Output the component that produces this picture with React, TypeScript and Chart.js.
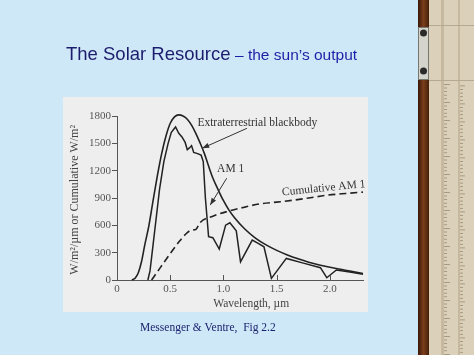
import React, { useEffect, useRef } from 'react';
import { Chart, registerables } from 'chart.js';
Chart.register(...registerables);

// ---- data (wavelength in µm, irradiance in W/m²/µm) ----
const blackbodyX = [0.14, 0.17, 0.2, 0.23, 0.26, 0.3, 0.34, 0.38, 0.42, 0.46, 0.5, 0.54, 0.58, 0.62, 0.66, 0.7, 0.74, 0.78, 0.82, 0.86, 0.9, 0.95, 1.0, 1.05, 1.1, 1.2, 1.3, 1.4, 1.5, 1.6, 1.7, 1.8, 1.9, 2.0, 2.1, 2.2, 2.31];
const blackbodyY = [0, 20, 80, 200, 380, 600, 880, 1150, 1390, 1580, 1720, 1790, 1812, 1800, 1765, 1700, 1610, 1505, 1390, 1250, 1120, 990, 870, 770, 690, 560, 460, 385, 325, 275, 232, 195, 165, 140, 118, 95, 72];

const am1X = [0.29, 0.31, 0.34, 0.37, 0.4, 0.44, 0.48, 0.51, 0.55, 0.58, 0.61, 0.64, 0.66, 0.68, 0.7, 0.72, 0.75, 0.79, 0.81, 0.83, 0.86, 0.9, 0.96, 1.02, 1.06, 1.12, 1.16, 1.27, 1.33, 1.38, 1.45, 1.59, 1.75, 1.91, 1.97, 2.06, 2.2, 2.31];
const am1Y = [0, 100, 400, 700, 1000, 1300, 1500, 1620, 1680, 1610, 1570, 1510, 1430, 1450, 1475, 1400, 1390, 1370, 1300, 900, 475, 464, 340, 602, 628, 540, 200, 438, 400, 365, 18, 237, 185, 135, 25, 110, 85, 62];

const cumX = [0.325, 0.4, 0.5, 0.59, 0.66, 0.7, 0.74, 0.78, 0.9, 1.03, 1.2, 1.34, 1.5, 1.65, 1.8, 1.97, 2.15, 2.31];
const cumY = [0, 125, 290, 430, 520, 548, 555, 630, 700, 750, 800, 835, 855, 875, 900, 930, 950, 965];

const xTicks = [0, 0.5, 1.0, 1.5, 2.0];
const xTickLabels = ['0', '0.5', '1.0', '1.5', '2.0'];
const yTicks = [0, 300, 600, 900, 1200, 1500, 1800];

const SERIF = '"Liberation Serif", "Times New Roman", serif';
const SANS = '"Liberation Sans", Arial, sans-serif';

const slidePlugin = {
  id: 'slide',
  beforeDraw(chart: any) {
    const ctx = chart.ctx as CanvasRenderingContext2D;
    ctx.save();
    ctx.fillStyle = '#cfe8f7';
    ctx.fillRect(0, 0, 474, 355);
    // scanned figure background
    ctx.fillStyle = '#eeeeee';
    ctx.fillRect(63, 97, 305, 215);

    // title
    ctx.textBaseline = 'alphabetic';
    ctx.textAlign = 'left';
    ctx.font = `18.5px ${SANS}`;
    ctx.fillStyle = '#1c1c6e';
    ctx.fillText('The Solar Resource', 66, 60);
    ctx.font = `15.5px ${SANS}`;
    ctx.fillStyle = '#1e1ea6';
    ctx.fillText('\u2013 the sun\u2019s output', 235, 60);

    // caption
    ctx.font = `11.5px ${SERIF}`;
    ctx.fillStyle = '#1c2470';
    ctx.fillText('Messenger & Ventre,  Fig 2.2', 140, 331);

    // slide rule decoration
    const g = ctx.createLinearGradient(418, 0, 429, 0);
    g.addColorStop(0, '#3a1806');
    g.addColorStop(0.5, '#7a3e1b');
    g.addColorStop(1, '#45200b');
    ctx.fillStyle = g;
    ctx.fillRect(418, 0, 11, 355);
    ctx.fillStyle = '#dbd1bb';
    ctx.fillRect(429, 0, 45, 355);
    ctx.fillStyle = '#c6b99f';
    ctx.fillRect(441, 0, 3, 355);
    ctx.fillRect(458, 0, 2, 355);
    ctx.fillStyle = '#9a8c74';
    let i = 0;
    for (let y = 84; y < 355; y += 3.6) {
      const long = i % 5 === 0;
      ctx.fillRect(444, y, long ? 6 : 3, 0.8);
      ctx.fillRect(460, y + 1.5, long ? 5 : 3, 0.8);
      i++;
    }
    ctx.fillStyle = '#b5a98f';
    ctx.fillRect(429, 25, 45, 1);
    ctx.fillRect(429, 80, 45, 1);
    // clip
    ctx.fillStyle = '#d4d4cc';
    ctx.fillRect(418, 27, 11, 53);
    ctx.strokeStyle = '#77776f';
    ctx.lineWidth = 1;
    ctx.strokeRect(418.5, 27.5, 10, 52);
    ctx.fillStyle = '#2a2a2a';
    [33, 71].forEach((cy) => {
      ctx.beginPath();
      ctx.arc(423.5, cy, 3.5, 0, Math.PI * 2);
      ctx.fill();
    });
    ctx.restore();
  },
  afterDraw(chart: any) {
    const ctx = chart.ctx as CanvasRenderingContext2D;
    const xs = chart.scales.x;
    const ys = chart.scales.y;
    const px = (v: number) => xs.getPixelForValue(v);
    const py = (v: number) => ys.getPixelForValue(v);
    ctx.save();
    // inner x ticks
    ctx.strokeStyle = '#555';
    ctx.lineWidth = 1;
    xTicks.forEach((v) => {
      if (v === 0) return;
      const x = Math.round(px(v)) + 0.5;
      ctx.beginPath();
      ctx.moveTo(x, ys.bottom);
      ctx.lineTo(x, ys.bottom - 5);
      ctx.stroke();
    });

    ctx.fillStyle = '#333';
    ctx.font = `11.5px ${SERIF}`;
    ctx.textBaseline = 'middle';
    ctx.textAlign = 'left';
    // blackbody label + arrow
    ctx.fillText('Extraterrestrial blackbody', px(0.755), py(1720));
    const arrow = (x1: number, y1: number, x2: number, y2: number, head: boolean) => {
      ctx.strokeStyle = '#333';
      ctx.lineWidth = 1;
      ctx.beginPath();
      ctx.moveTo(x1, y1);
      ctx.lineTo(x2, y2);
      ctx.stroke();
      if (head) {
        const a = Math.atan2(y2 - y1, x2 - x1);
        const L = 7, W = 2.6;
        ctx.beginPath();
        ctx.moveTo(x2, y2);
        ctx.lineTo(x2 - L * Math.cos(a) + W * Math.sin(a), y2 - L * Math.sin(a) - W * Math.cos(a));
        ctx.lineTo(x2 - L * Math.cos(a) - W * Math.sin(a), y2 - L * Math.sin(a) + W * Math.cos(a));
        ctx.closePath();
        ctx.fillStyle = '#333';
        ctx.fill();
      }
    };
    arrow(px(1.22), py(1665), px(0.8), py(1446), true);
    ctx.fillStyle = '#333';
    ctx.fillText('AM 1', px(0.94), py(1216));
    arrow(px(1.03), py(1117), px(0.875), py(822), true);

    // cumulative label (rotated)
    ctx.save();
    ctx.translate(px(1.55), py(960));
    ctx.rotate(-5.8 * Math.PI / 180);
    ctx.fillStyle = '#333';
    ctx.textAlign = 'left';
    ctx.fillText('Cumulative AM 1', 0, 0);
    ctx.restore();

    // axis titles
    ctx.fillStyle = '#444';
    ctx.textAlign = 'center';
    ctx.fillText('Wavelength, \u00b5m', px(1.26), ys.bottom + 24);
    ctx.save();
    ctx.translate(75, py(880));
    ctx.rotate(-Math.PI / 2);
    ctx.font = `12px ${SERIF}`;
    ctx.fillText('W/m\u00b2/\u00b5m or Cumulative W/m\u00b2', 0, 0);
    ctx.restore();
    ctx.restore();
  },
};

export default function App() {
  const ref = useRef<HTMLCanvasElement>(null);
  useEffect(() => {
    if (!ref.current) return;
    const pts = (xs: number[], ys: number[]) => xs.map((x, i) => ({ x, y: ys[i] }));
    const chart = new Chart(ref.current, {
      type: 'line',
      data: {
        datasets: [
          {
            label: 'Extraterrestrial blackbody',
            data: pts(blackbodyX, blackbodyY),
            borderColor: '#222222',
            borderWidth: 1.6,
            pointRadius: 0,
            clip: false,
            cubicInterpolationMode: 'monotone',
          },
          {
            label: 'AM 1',
            data: pts(am1X, am1Y),
            borderColor: '#222222',
            borderWidth: 1.5,
            pointRadius: 0,
            clip: false,
            tension: 0,
          },
          {
            label: 'Cumulative AM 1',
            data: pts(cumX, cumY),
            borderColor: '#222222',
            borderWidth: 1.6,
            borderDash: [7, 4],
            pointRadius: 0,
            clip: false,
            cubicInterpolationMode: 'monotone',
          },
        ],
      },
      options: {
        animation: false,
        responsive: false,
        devicePixelRatio: 1,
        layout: { padding: { left: 67, right: 111, top: 116, bottom: 55 } },
        plugins: { legend: { display: false }, tooltip: { enabled: false } },
        scales: {
          x: {
            type: 'linear',
            min: 0,
            max: 2.31,
            afterBuildTicks: (s: any) => {
              s.ticks = xTicks.map((v) => ({ value: v }));
            },
            afterFit: (s: any) => {
              s.height = 20;
            },
            grid: { display: false, drawTicks: false },
            border: { display: true, color: '#555', width: 1 },
            ticks: {
              padding: 3,
              color: '#555',
              font: { family: SERIF, size: 11 },
              maxRotation: 0,
              callback: (v: any) => {
                const idx = xTicks.indexOf(Number(v));
                return idx >= 0 ? xTickLabels[idx] : '';
              },
            },
          },
          y: {
            type: 'linear',
            min: 0,
            max: 1800,
            afterBuildTicks: (s: any) => {
              s.ticks = yTicks.map((v) => ({ value: v }));
            },
            afterFit: (s: any) => {
              s.width = 50;
            },
            grid: { drawOnChartArea: false, drawTicks: true, tickLength: 5, color: '#555' },
            border: { display: true, color: '#555', width: 1 },
            ticks: {
              padding: 1,
              color: '#555',
              font: { family: SERIF, size: 11 },
              callback: (v: any) => String(v),
            },
          },
        },
      },
      plugins: [slidePlugin],
    } as any);
    return () => chart.destroy();
  }, []);
  return (
    <div style={{ position: 'fixed', left: 0, top: 0, width: 474, height: 355 }}>
      <canvas ref={ref} width={474} height={355} style={{ display: 'block', width: 474, height: 355 }} />
    </div>
  );
}
